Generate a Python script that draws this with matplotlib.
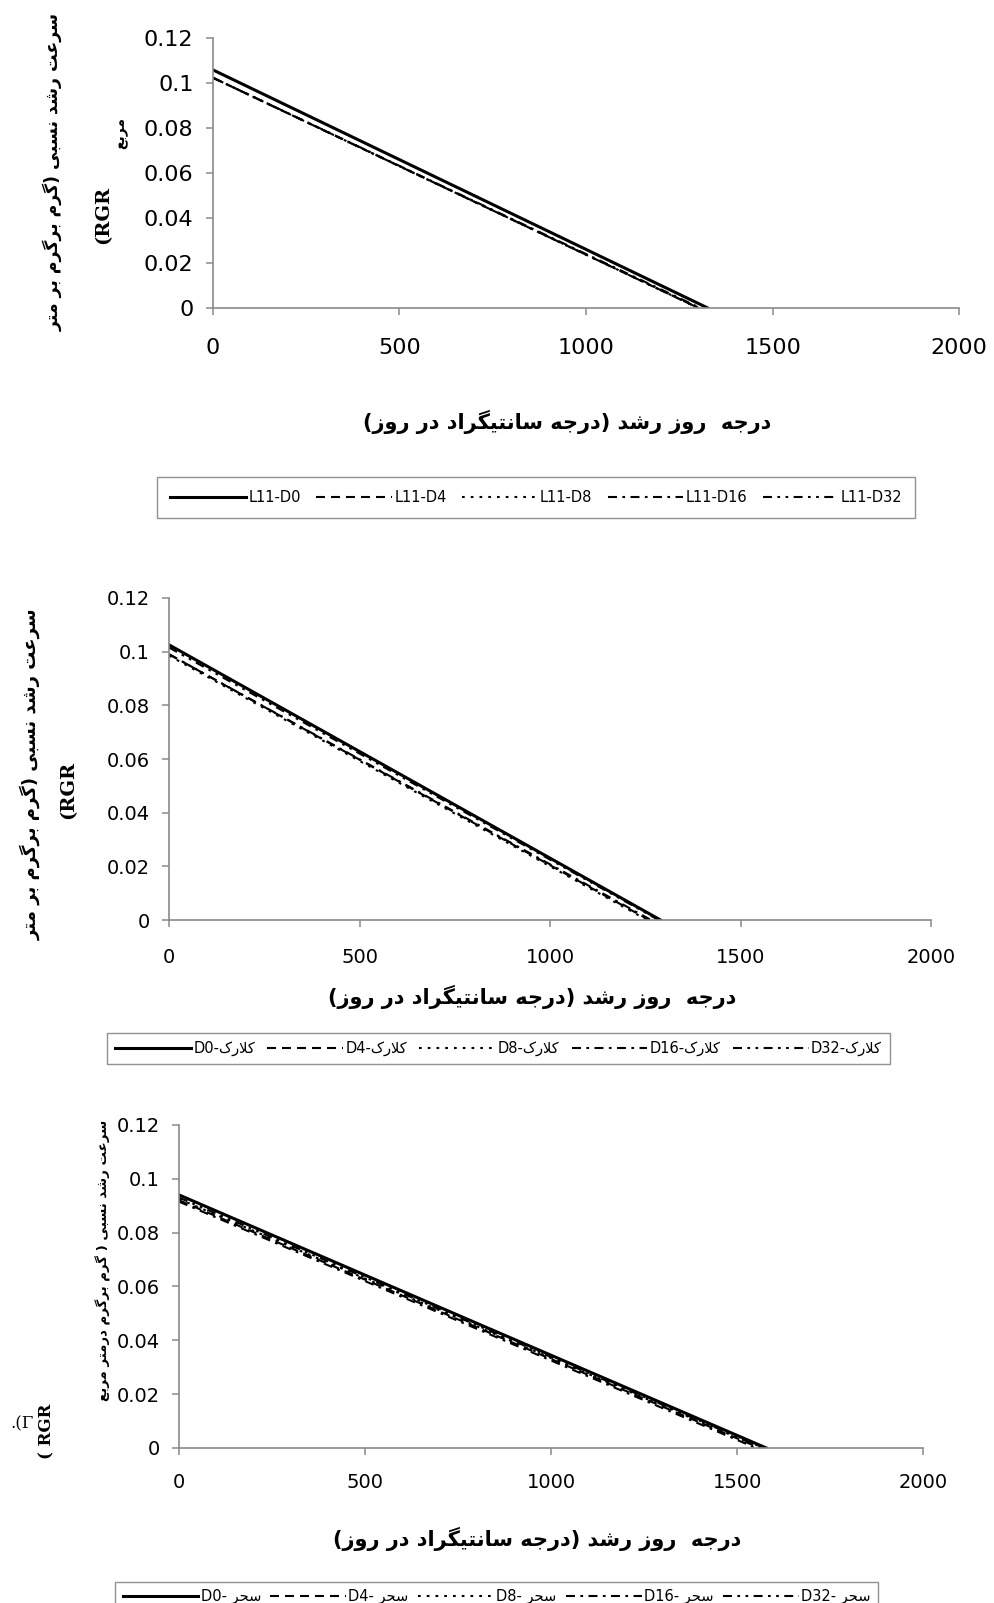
import matplotlib
matplotlib.use('Agg')
import matplotlib.pyplot as plt

# ---- data ----
treat = ["D0", "D4", "D8", "D16", "D32"]

# panel 1 : L11
l11_start = [0.106, 0.1025, 0.1025, 0.1025, 0.1025]
l11_end = [1325, 1300, 1300, 1305, 1300]
# panel 2 : Clark
clark_start = [0.1025, 0.099, 0.0985, 0.099, 0.1015]
clark_end = [1290, 1260, 1255, 1265, 1285]
# panel 3 : Sahar
sahar_start = [0.094, 0.092, 0.0925, 0.0915, 0.093]
sahar_end = [1578, 1560, 1565, 1550, 1570]

x_ticks = [0, 500, 1000, 1500, 2000]
y_ticks = [0, 0.02, 0.04, 0.06, 0.08, 0.1, 0.12]
y_ticklabels = ["0", "0.02", "0.04", "0.06", "0.08", "0.1", "0.12"]

xlabel_fa = "درجه  روز رشد (درجه سانتیگراد در روز)"
ylabel_fa_1 = "سرعت رشد نسبی (گرم برگرم بر متر"
ylabel_fa_3 = "سرعت رشد نسبی ( گرم برگرم درمتر مربع"
clark_fa = "کلارک"
sahar_fa = "سحر"

styles = ["-", (0, (4.3, 2.9)), (0, (1.3, 2.9)), (0, (4.3, 2.6, 1.3, 2.6)),
          (0, (4.3, 2.6, 1.3, 2.6, 1.3, 2.6))]
widths = [2.2, 1.5, 1.5, 1.5, 1.5]

# ---- tiny arabic/persian shaper (no arabic_reshaper available) ----
# letter: (isolated, final, initial, medial) ; None initial -> right joining only
FORMS = {
    'ا': (0xFE8D, 0xFE8E, None, None),
    'ب': (0xFE8F, 0xFE90, 0xFE91, 0xFE92),
    'ت': (0xFE95, 0xFE96, 0xFE97, 0xFE98),
    'ج': (0xFE9D, 0xFE9E, 0xFE9F, 0xFEA0),
    'ح': (0xFEA1, 0xFEA2, 0xFEA3, 0xFEA4),
    'د': (0xFEA9, 0xFEAA, None, None),
    'ر': (0xFEAD, 0xFEAE, None, None),
    'ز': (0xFEAF, 0xFEB0, None, None),
    'س': (0xFEB1, 0xFEB2, 0xFEB3, 0xFEB4),
    'ش': (0xFEB5, 0xFEB6, 0xFEB7, 0xFEB8),
    'ع': (0xFEC9, 0xFECA, 0xFECB, 0xFECC),
    'ل': (0xFEDD, 0xFEDE, 0xFEDF, 0xFEE0),
    'م': (0xFEE1, 0xFEE2, 0xFEE3, 0xFEE4),
    'ن': (0xFEE5, 0xFEE6, 0xFEE7, 0xFEE8),
    'ه': (0xFEE9, 0xFEEA, 0xFEEB, 0xFEEC),
    'و': (0xFEED, 0xFEEE, None, None),
    'ی': (0xFBFC, 0xFBFD, 0xFBFE, 0xFBFF),
    'گ': (0xFB92, 0xFB93, 0xFB94, 0xFB95),
    'ک': (0xFB8E, 0xFB8F, 0xFB90, 0xFB91),
}
MIRROR = {'(': ')', ')': '('}


def shape(word):
    out = []
    chars = list(word)
    i = 0
    while i < len(chars):
        c = chars[i]
        if c not in FORMS:
            out.append(c)
            i += 1
            continue
        prev = chars[i - 1] if i > 0 else None
        join_prev = prev in FORMS and FORMS[prev][2] is not None
        # lam-alef ligature
        if c == 'ل' and i + 1 < len(chars) and chars[i + 1] == 'ا':
            out.append(chr(0xFEFC if join_prev else 0xFEFB))
            i += 2
            continue
        nxt = chars[i + 1] if i + 1 < len(chars) else None
        join_next = nxt in FORMS and FORMS[c][2] is not None
        f = FORMS[c]
        if join_prev and join_next:
            out.append(chr(f[3]))
        elif join_prev:
            out.append(chr(f[1]))
        elif join_next:
            out.append(chr(f[2]))
        else:
            out.append(chr(f[0]))
        i += 1
    return ''.join(out)


def rtl(s):
    shaped = shape(s)
    return ''.join(MIRROR.get(c, c) for c in reversed(shaped))


plt.rcParams['font.family'] = ['DejaVu Sans']

fig = plt.figure(figsize=(9.95, 16.03), dpi=100)

panels = [
    dict(rect=[0.214, 0.808, 0.750, 0.168], start=l11_start, end=l11_end,
         names=["L11-" + t for t in treat], fs=16, xpad=17),
    dict(rect=[0.170, 0.426, 0.766, 0.201], start=clark_start, end=clark_end,
         names=[t + "-" + rtl(clark_fa) for t in treat], fs=14, xpad=15),
    dict(rect=[0.180, 0.0967, 0.748, 0.2015], start=sahar_start, end=sahar_end,
         names=[t + "- " + rtl(sahar_fa) for t in treat], fs=14, xpad=13),
]

axes = []
for p in panels:
    ax = fig.add_axes(p['rect'])
    for k in range(len(treat)):
        ax.plot([0, p['end'][k]], [p['start'][k], 0], color='black',
                linestyle=styles[k], linewidth=widths[k], label=p['names'][k])
    ax.set_xlim(0, 2000)
    ax.set_ylim(0, 0.12)
    ax.set_xticks(x_ticks)
    ax.set_yticks(y_ticks)
    ax.set_yticklabels(y_ticklabels)
    for s in ['top', 'right']:
        ax.spines[s].set_visible(False)
    for s in ['left', 'bottom']:
        ax.spines[s].set_color('#8a8a8a')
        ax.spines[s].set_linewidth(1.2)
    ax.tick_params(axis='both', direction='out', length=5, width=1.1,
                   color='#8a8a8a', labelsize=p['fs'])
    ax.tick_params(axis='y', pad=9)
    ax.tick_params(axis='x', pad=p['xpad'])
    axes.append(ax)

# legends: centre x, centre y (figure fraction), column spacing, border pad
leg_pos = [(0.539, 0.6896, 1.05, 0.9), (0.501, 0.346, 0.85, 0.55),
           (0.499, 0.004, 0.65, 0.5)]
for ax, (cx, cy, cs, bp) in zip(axes, leg_pos):
    h, l = ax.get_legend_handles_labels()
    leg = fig.legend(h, l, loc='center', bbox_to_anchor=(cx, cy),
                     ncol=5, fontsize=10.5, handlelength=5.2, handletextpad=0.15,
                     columnspacing=cs, fancybox=False, borderpad=bp,
                     borderaxespad=0)
    leg.get_frame().set_edgecolor('#777777')
    leg.get_frame().set_linewidth(1.0)

# x labels
for xpos, ypos in [(0.570, 0.7367), (0.535, 0.378), (0.540, 0.040)]:
    fig.text(xpos, ypos, rtl(xlabel_fa), ha='center', va='center',
             fontsize=15, fontweight='bold')

# y labels
fig.text(0.053, 0.893, rtl(ylabel_fa_1), rotation=90, ha='center', va='center',
         fontsize=12.5, fontweight='bold')
fig.text(0.104, 0.866, "(RGR", rotation=90, ha='center', va='center',
         fontsize=14, fontweight='bold', family='DejaVu Serif')
fig.text(0.122, 0.917, rtl("مربع"), rotation=90, ha='center', va='center',
         fontsize=10, fontweight='bold')

fig.text(0.031, 0.517, rtl(ylabel_fa_1), rotation=90, ha='center', va='center',
         fontsize=13, fontweight='bold')
fig.text(0.069, 0.507, "(RGR", rotation=90, ha='center', va='center',
         fontsize=14, fontweight='bold', family='DejaVu Serif')

fig.text(0.104, 0.214, rtl(ylabel_fa_3), rotation=90, ha='center', va='center',
         fontsize=9.5, fontweight='bold')
fig.text(0.047, 0.107, "( RGR", rotation=90, ha='center', va='center',
         fontsize=12, fontweight='bold', family='DejaVu Serif')
fig.text(0.022, 0.1117, ".(Γ", ha='center', va='center', fontsize=12,
         family='DejaVu Serif')

fig.savefig("out.png", dpi=100)
